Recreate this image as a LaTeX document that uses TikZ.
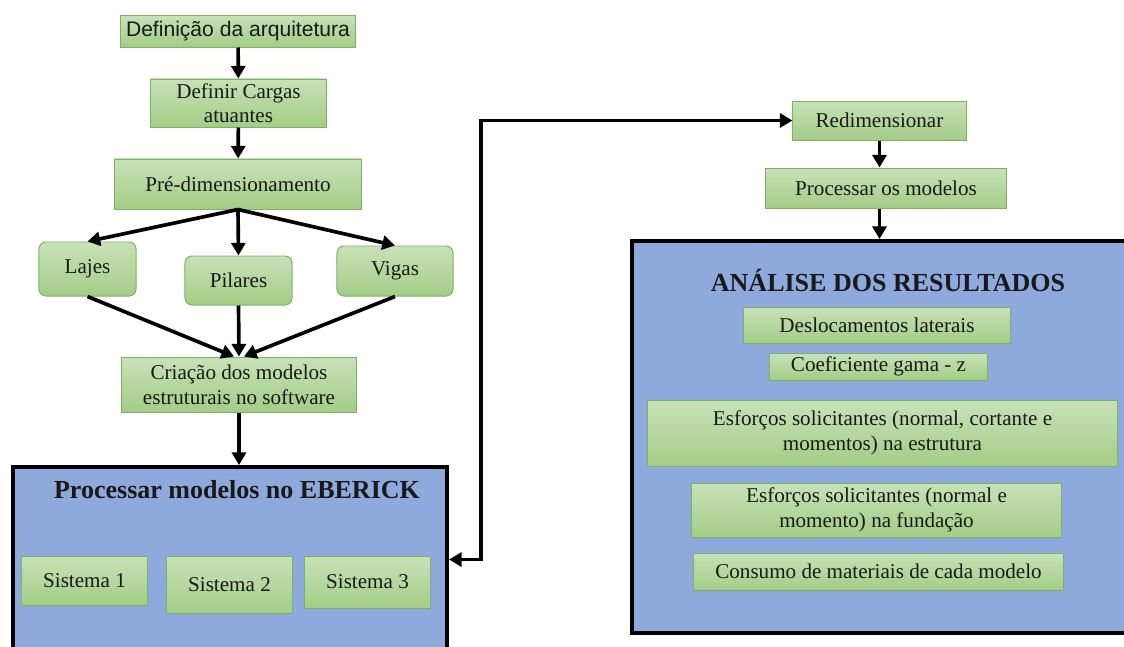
\documentclass[tikz,border=0pt]{standalone}
\usepackage{fontspec}
\setmainfont{Liberation Serif}
\newfontfamily\arqfont{Liberation Sans}
\usetikzlibrary{arrows.meta}
\definecolor{boxtop}{RGB}{200,226,184}
\definecolor{boxbot}{RGB}{163,205,134}
\definecolor{boxline}{RGB}{128,176,98}
\definecolor{panel}{RGB}{142,169,219}
\begin{document}
\begin{tikzpicture}[x=0.025cm, y=-0.025cm,
    >={Triangle[length=9pt, width=10pt]},
    etapa/.style={draw=boxline, line width=0.7pt, top color=boxtop, bottom color=boxbot,
      inner sep=0pt, align=center, font=\fontsize{15}{17.5}\selectfont, text=black!90},
    item/.style={etapa, rounded corners=5pt},
    painel/.style={draw=black, line width=2.8pt, fill=panel, inner sep=0pt},
    titulo/.style={font=\bfseries\fontsize{18.5}{21}\selectfont, text=black!90},
    seta/.style={line width=2.6pt, ->}]
  \clip (0, 0) rectangle (1124, 646);

  % coluna da esquerda
  \node (arq) [etapa, minimum width=5.875cm, minimum height=0.8cm, font=\arqfont\fontsize{15}{17.5}\selectfont] at (238, 31) {Definição da arquitetura};
  \node (cargas) [etapa, minimum width=4.375cm, minimum height=1.2cm] at (238.5, 103) {Definir Cargas\\atuantes};
  \node (pre) [etapa, minimum width=6.15cm, minimum height=1.25cm] at (238, 184) {Pré-dimensionamento};
  \node (lajes) [item, minimum width=2.425cm, minimum height=1.35cm] at (87.5, 269) {Lajes};
  \node (pilares) [item, minimum width=2.675cm, minimum height=1.225cm] at (238.5, 280.5) {Pilares};
  \node (vigas) [item, minimum width=2.9cm, minimum height=1.25cm] at (395, 271) {Vigas};
  \node (criacao) [etapa, minimum width=5.85cm, minimum height=1.375cm] at (239, 384.5) {Criação dos modelos\\estruturais no software};

  \node (eberick) [painel, minimum width=10.85cm, minimum height=4.625cm] at (230, 559.5) {};
  \node (ebtitulo) [titulo] at (237, 490) {Processar modelos no EBERICK};
  \node (sis1) [etapa, minimum width=3.125cm, minimum height=1.225cm] at (84.5, 580.5) {Sistema 1};
  \node (sis2) [etapa, minimum width=3.125cm, minimum height=1.425cm] at (229.5, 584.5) {Sistema 2};
  \node (sis3) [etapa, minimum width=3.125cm, minimum height=1.3cm] at (367.5, 582) {Sistema 3};

  % coluna da direita
  \node (redim) [etapa, minimum width=4.325cm, minimum height=0.975cm] at (879.5, 120.5) {Redimensionar};
  \node (procmod) [etapa, minimum width=6cm, minimum height=1cm] at (886, 188) {Processar os modelos};

  \node (analise) [painel, minimum width=12.45cm, minimum height=9.8cm] at (881, 437) {};
  \node (antitulo) [titulo] at (888, 280) {ANÁLISE DOS RESULTADOS};
  \node (desloc) [etapa, minimum width=6.65cm, minimum height=0.9cm] at (877, 325) {Deslocamentos laterais};
  \node (coef) [etapa, minimum width=5.425cm, minimum height=0.675cm] at (878.5, 366.5) {Coeficiente gama - z};
  \node (esf1) [etapa, minimum width=11.725cm, minimum height=1.65cm] at (882.5, 433) {Esforços solicitantes (normal, cortante e\\momentos) na estrutura};
  \node (esf2) [etapa, minimum width=9.225cm, minimum height=1.35cm] at (876.5, 510) {Esforços solicitantes (normal e\\momento) na fundação};
  \node (consumo) [etapa, minimum width=9.225cm, minimum height=0.925cm] at (878.5, 571.5) {Consumo de materiais de cada modelo};

  \draw[seta] (arq) -- (cargas);
  \draw[seta] (cargas) -- (pre);
  \draw[seta] (pre.south) -- (lajes.north);
  \draw[seta] (pre.south) -- (pilares.north);
  \draw[seta] (pre.south) -- (vigas.north);
  \draw[seta] (lajes.south) -- (criacao.100);
  \draw[seta] (pilares.south) -- (criacao.north);
  \draw[seta] (vigas.south) -- (criacao.80);
  \draw[seta] (criacao.south) -- (criacao.south |- eberick.north);
  \draw[seta, <->] (eberick.east) -- ++(32, 0) |- (redim.west);
  \draw[seta] (redim.south) -- (redim.south |- procmod.north);
  \draw[seta] (redim.south |- procmod.south) -- (redim.south |- analise.north);
\end{tikzpicture}
\end{document}
